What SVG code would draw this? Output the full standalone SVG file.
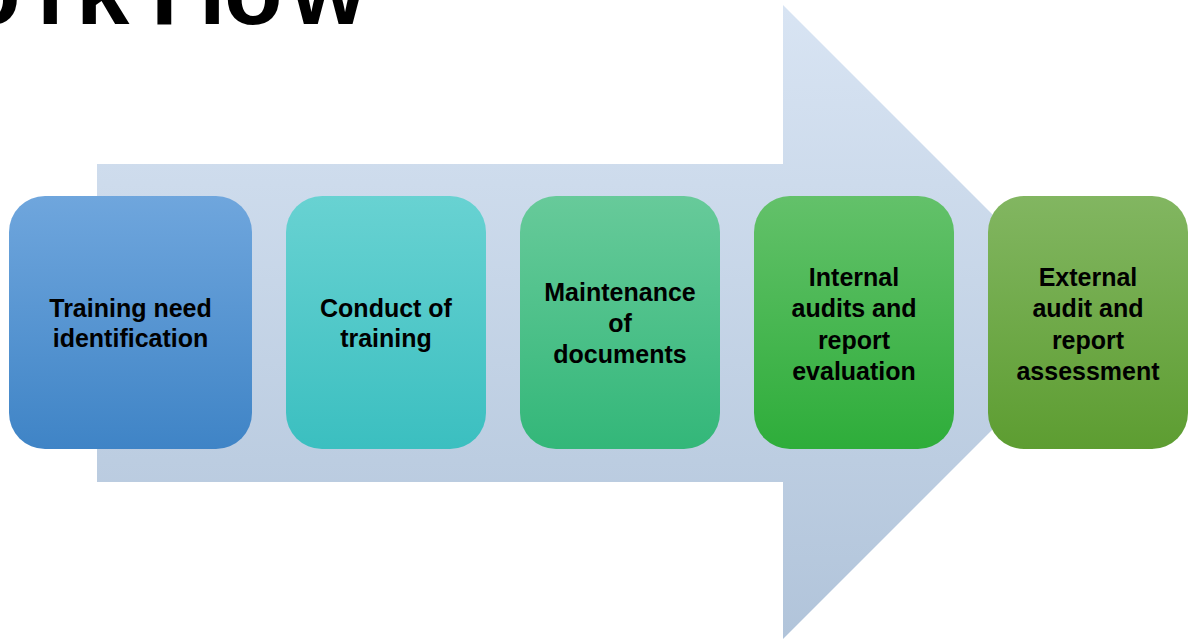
<svg xmlns="http://www.w3.org/2000/svg" width="1192" height="639" viewBox="0 0 1192 639">
  <defs>
    <linearGradient id="gArrow" x1="0" y1="0" x2="0" y2="1">
      <stop offset="0" stop-color="#d8e4f3"/>
      <stop offset="1" stop-color="#b1c4da"/>
    </linearGradient>
    <linearGradient id="g1" x1="0" y1="0" x2="0" y2="1">
      <stop offset="0" stop-color="#6fa6dd"/>
      <stop offset="1" stop-color="#3f84c6"/>
    </linearGradient>
    <linearGradient id="g2" x1="0" y1="0" x2="0" y2="1">
      <stop offset="0" stop-color="#68d2d2"/>
      <stop offset="1" stop-color="#3bbfc0"/>
    </linearGradient>
    <linearGradient id="g3" x1="0" y1="0" x2="0" y2="1">
      <stop offset="0" stop-color="#67ca9a"/>
      <stop offset="1" stop-color="#33b779"/>
    </linearGradient>
    <linearGradient id="g4" x1="0" y1="0" x2="0" y2="1">
      <stop offset="0" stop-color="#63c16a"/>
      <stop offset="1" stop-color="#2ead3a"/>
    </linearGradient>
    <linearGradient id="g5" x1="0" y1="0" x2="0" y2="1">
      <stop offset="0" stop-color="#82b661"/>
      <stop offset="1" stop-color="#5d9d31"/>
    </linearGradient>
  </defs>
  <style>
    .lbl { font-family: "Liberation Sans", Arial, sans-serif; font-weight: bold; font-size: 25px; fill: #000; text-anchor: middle; }
    .title { font-family: "Liberation Sans", Arial, sans-serif; font-weight: bold; font-size: 96px; fill: #000; }
  </style>
  <rect width="1192" height="639" fill="#ffffff"/>
  <text class="title" x="-135 -38 37 76 120 151 199 224 291" y="24">Work Flow</text>
  <g id="connectors">
    <polygon id="arrow" points="97,164 783,164 783,5 1100,322 783,639 783,482 97,482" fill="url(#gArrow)"/>
  </g>
  <g id="node1">
    <rect x="9" y="196" width="243" height="253" rx="36" ry="36" fill="url(#g1)"/>
    <text class="lbl" x="130.5" y="317">Training need</text>
    <text class="lbl" x="130.5" y="347">identification</text>
  </g>
  <g id="node2">
    <rect x="286" y="196" width="200" height="253" rx="36" ry="36" fill="url(#g2)"/>
    <text class="lbl" x="386" y="317">Conduct of</text>
    <text class="lbl" x="386" y="347">training</text>
  </g>
  <g id="node3">
    <rect x="520" y="196" width="200" height="253" rx="36" ry="36" fill="url(#g3)"/>
    <text class="lbl" x="620" y="301">Maintenance</text>
    <text class="lbl" x="620" y="332">of</text>
    <text class="lbl" x="620" y="363">documents</text>
  </g>
  <g id="node4">
    <rect x="754" y="196" width="200" height="253" rx="36" ry="36" fill="url(#g4)"/>
    <text class="lbl" x="854" y="286">Internal</text>
    <text class="lbl" x="854" y="317">audits and</text>
    <text class="lbl" x="854" y="349">report</text>
    <text class="lbl" x="854" y="380">evaluation</text>
  </g>
  <g id="node5">
    <rect x="988" y="196" width="200" height="253" rx="36" ry="36" fill="url(#g5)"/>
    <text class="lbl" x="1088" y="286">External</text>
    <text class="lbl" x="1088" y="317">audit and</text>
    <text class="lbl" x="1088" y="349">report</text>
    <text class="lbl" x="1088" y="380">assessment</text>
  </g>
</svg>
